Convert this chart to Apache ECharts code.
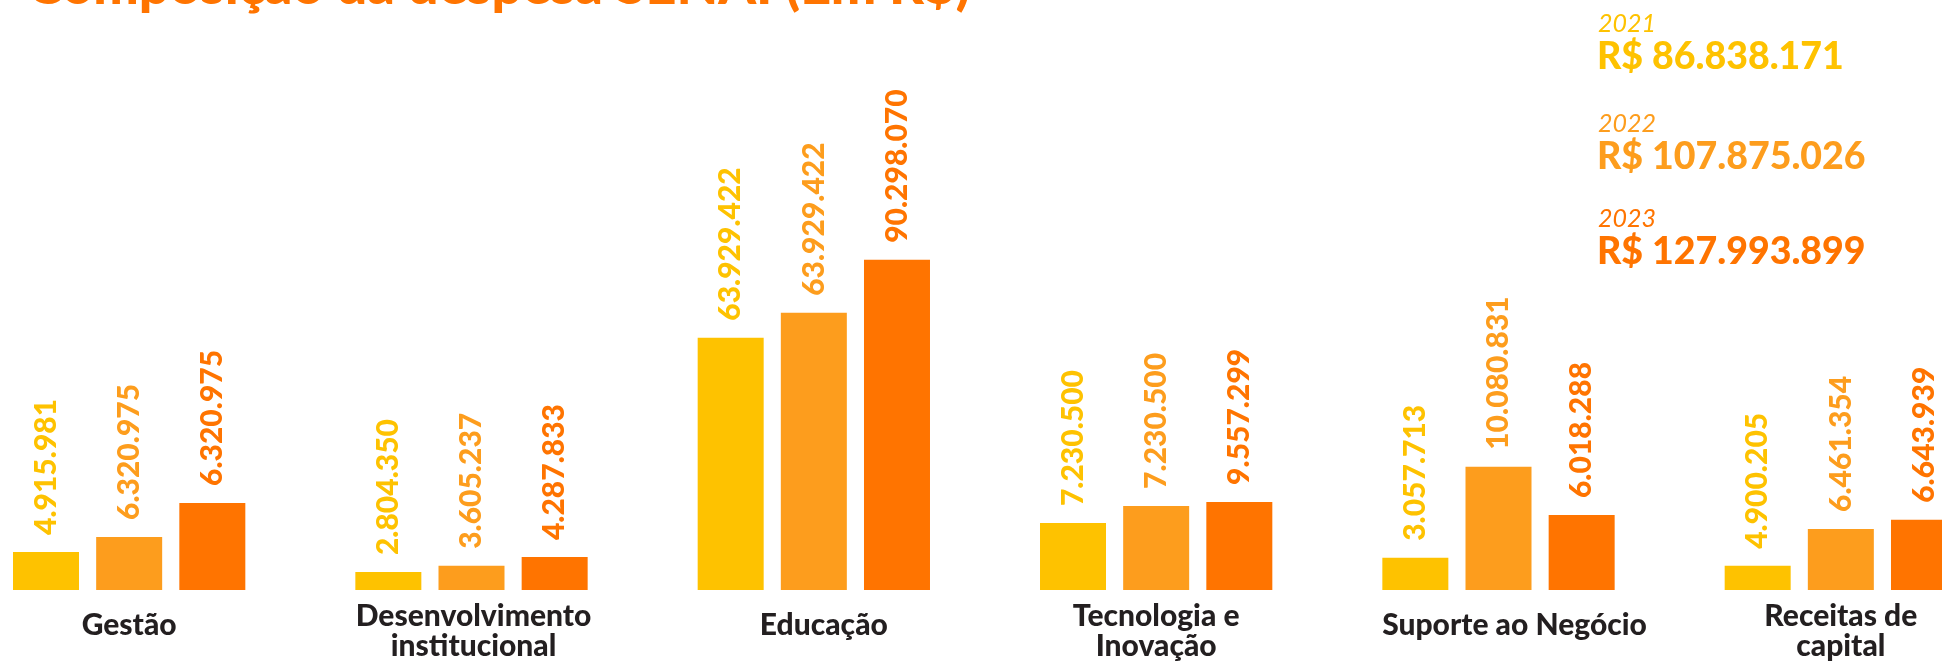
<!DOCTYPE html>
<html>
<head>
<meta charset="utf-8">
<script src="https://cdn.jsdelivr.net/npm/echarts@6/dist/echarts.min.js"></script>
<style>
  html, body { margin: 0; padding: 0; background: #fff; }
  #chart { width: 1942px; height: 667px; }
</style>
</head>
<body>
<div id="chart"></div>
<script>
var categorias = ['Gestão', 'Desenvolvimento\ninstitucional', 'Educação', 'Tecnologia e\nInovação', 'Suporte ao Negócio', 'Receitas de\ncapital'];

// valores impressos nos rótulos (R$)
var valores2021 = [4915981, 2804350, 63929422, 7230500, 3057713, 4900205];
var valores2022 = [6320975, 3605237, 63929422, 7230500, 10080831, 6461354];
var valores2023 = [6320975, 4287833, 90298070, 9557299, 6018288, 6643939];

// altura das barras como desenhadas no infográfico (R$ milhões, fora de escala)
var altura2021 = [10.4, 4.9, 69.0, 18.3, 8.8, 6.6];
var altura2022 = [14.5, 6.6, 75.8, 23.0, 33.7, 16.7];
var altura2023 = [23.8, 9.0, 90.3, 24.1, 20.5, 19.2];

var anos = ['2021', '2022', '2023'];
var totais = ['R$ 86.838.171', 'R$ 107.875.026', 'R$ 127.993.899'];
var cores = ['#FEC200', '#FD9D1D', '#FF7400'];

var chart = echarts.init(document.getElementById('chart'));

function fmt(v){
    return String(v).replace(/\B(?=(\d{3})+(?!\d))/g, '.');
}

function serie(i, alturas, valores){
    return {
        name: anos[i],
        type: 'bar',
        barWidth: 66,
        barGap: '26%',
        itemStyle: { color: cores[i] },
        data: alturas,
        label: {
            show: true,
            position: 'top',
            distance: 17,
            rotate: 90,
            align: 'left',
            verticalAlign: 'middle',
            fontFamily: 'Lato',
            fontWeight: 900,
            fontSize: 30,
            color: cores[i],
            formatter: function(p){ return fmt(valores[p.dataIndex]); }
        }
    };
}

var resumo = [];
var ys = [24, 124, 219];
for (var i = 0; i < anos.length; i++) {
    resumo.push({
        type: 'text', left: 1598, top: ys[i] - 13,
        style: { text: anos[i], fill: cores[i], font: 'italic 25px Lato' }
    });
    resumo.push({
        type: 'text', left: 1597, top: ys[i] + 14,
        style: { text: totais[i], fill: cores[i], font: '900 37.5px Lato' }
    });
}
resumo.push({
    type: 'text', left: 27, top: -40,
    style: { text: 'Composição da despesa SENAI (Em R$)', fill: '#FF7400', font: '900 54px Lato' }
});

// pequenos deslocamentos dos nomes de categoria, como no original
var recuo = [0, 4, 20, 0, 32, 0];

chart.setOption({
    animation: false,
    grid: { left: -42, right: -70, top: 5, bottom: 77, outerBoundsMode: 'none' },
    xAxis: {
        type: 'category',
        data: categorias.map(function(c, k){
            var topo = c.indexOf('\n') < 0 ? 9 : 0;
            return { value: c, textStyle: { padding: [topo, 0, 0, recuo[k]] } };
        }),
        axisLine: { show: false },
        axisTick: { show: false },
        axisLabel: {
            margin: 11,
            interval: 0,
            fontFamily: 'Lato',
            fontWeight: 900,
            fontSize: 30,
            lineHeight: 30,
            color: '#231F20'
        }
    },
    yAxis: {
        type: 'value',
        min: 0,
        max: 160,
        show: false,
        splitLine: { show: false }
    },
    series: [
        serie(0, altura2021, valores2021),
        serie(1, altura2022, valores2022),
        serie(2, altura2023, valores2023)
    ],
    graphic: resumo
});
</script>
</body>
</html>
